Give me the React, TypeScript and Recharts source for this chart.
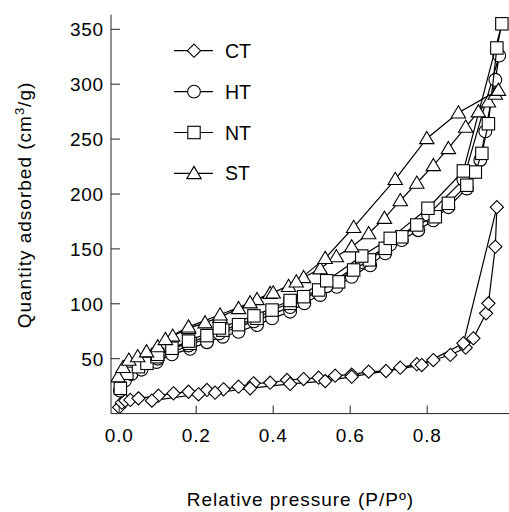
import { ScatterChart, Scatter, XAxis, YAxis, Legend, Label } from 'recharts';

// isotherm points [P/P0, quantity], adsorption branch then desorption branch
const CT_ADS: [number, number][] = [
  [0.0, 5.7], [0.007, 9.9], [0.016, 11.8], [0.029, 12.4], [0.05, 13.9], [0.102, 16.3], [0.141, 18.5],
  [0.18, 19.9], [0.228, 21.5], [0.271, 22.1], [0.31, 24.5], [0.349, 27.6], [0.392, 28.1], [0.436, 30.6],
  [0.479, 31.5], [0.518, 32.7], [0.561, 34.5], [0.604, 35.5], [0.648, 38.2], [0.693, 38.8], [0.73, 41.8],
  [0.773, 45], [0.816, 48.8], [0.86, 53.4], [0.9, 60], [0.92, 68.6], [0.953, 91.3], [0.959, 100.4],
  [0.977, 152], [0.981, 188],
];
const CT_DES: [number, number][] = [
  [0.894, 64], [0.786, 44.2], [0.604, 33.6], [0.535, 29.6], [0.444, 27], [0.34, 23], [0.249, 19],
  [0.206, 17.6], [0.085, 11.8],
];

const HT_ADS: [number, number][] = [
  [0.002, 21], [0.015, 30], [0.032, 36], [0.058, 40], [0.097, 47], [0.137, 54], [0.184, 59], [0.228, 65],
  [0.269, 70], [0.31, 74.5], [0.358, 80.6], [0.397, 86.7], [0.444, 92.8], [0.481, 100.5], [0.522, 108],
  [0.565, 115.5], [0.604, 124.6], [0.652, 135], [0.691, 146], [0.734, 158], [0.777, 167], [0.816, 176],
  [0.855, 188], [0.903, 205], [0.938, 231], [0.951, 257], [0.977, 304], [0.987, 326],
];
const HT_DES: [number, number][] = [
  [0.894, 213], [0.802, 181], [0.704, 154], [0.63, 138], [0.539, 116], [0.444, 97], [0.35, 84],
  [0.26, 73], [0.18, 62], [0.1, 50],
];

const NT_ADS: [number, number][] = [
  [0.003, 23], [0.02, 36.7], [0.05, 42.7], [0.072, 45.8], [0.098, 51.8], [0.137, 59.5], [0.184, 64],
  [0.228, 71], [0.269, 76], [0.31, 81], [0.358, 86.8], [0.397, 94.3], [0.444, 100.4], [0.479, 106.5],
  [0.518, 112.6], [0.57, 120], [0.609, 130.8], [0.65, 140], [0.691, 150.5], [0.734, 161], [0.773, 171.8],
  [0.821, 179.3], [0.855, 191.5], [0.903, 208], [0.925, 220], [0.942, 237], [0.959, 264], [0.981, 333],
  [0.994, 355],
];
const NT_DES: [number, number][] = [
  [0.894, 221], [0.802, 187], [0.704, 159.6], [0.63, 143.5], [0.539, 121], [0.444, 103], [0.35, 89],
  [0.26, 78], [0.18, 66], [0.1, 54],
];

const ST_ADS: [number, number][] = [
  [-0.003, 33.6], [0.01, 42.2], [0.025, 48.8], [0.048, 52], [0.071, 56.4], [0.1, 61], [0.139, 70.7],
  [0.18, 77.6], [0.223, 82.8], [0.262, 87.7], [0.31, 95.8], [0.358, 104], [0.392, 109.5], [0.44, 116],
  [0.479, 124], [0.522, 132], [0.564, 143], [0.604, 152], [0.648, 164], [0.689, 178], [0.73, 194],
  [0.773, 210], [0.816, 226], [0.855, 241.5], [0.9, 261], [0.933, 275], [0.959, 284], [0.977, 291],
  [0.985, 294.6],
];
const ST_DES: [number, number][] = [
  [0.881, 274], [0.799, 250.6], [0.717, 213.4], [0.609, 169.7], [0.535, 141.4], [0.46, 120], [0.4, 110],
  [0.34, 101], [0.262, 90], [0.18, 79], [0.12, 67.6],
];

const X_TICKS = [0, 0.2, 0.4, 0.6, 0.8];
const Y_TICKS = [50, 100, 150, 200, 250, 300, 350];
const X_DOMAIN = [-0.0213, 1.0125];
const Y_DOMAIN = [0, 363.3];

const FONT = '"Liberation Sans", Arial, sans-serif';
const INK = '#000';
const AXIS = '#222';

const toPoints = (ads: [number, number][], des: [number, number][]) =>
  [...ads, ...des].map(([x, y]) => ({ x, y }));

const mk = { fill: '#fff', stroke: INK, strokeWidth: 1.1 };

function Diamond({ cx, cy }: any) {
  const r = 6.6;
  return <path d={`M${cx},${cy - r}L${cx + r},${cy}L${cx},${cy + r}L${cx - r},${cy}Z`} {...mk} />;
}
function Ring({ cx, cy }: any) {
  return <circle cx={cx} cy={cy} r={6.4} {...mk} />;
}
function Box({ cx, cy }: any) {
  return <rect x={cx - 6.2} y={cy - 6.2} width={12.4} height={12.4} {...mk} />;
}
function Tri({ cx, cy }: any) {
  return <path d={`M${cx},${cy - 7}L${cx + 7.2},${cy + 5.2}L${cx - 7.2},${cy + 5.2}Z`} {...mk} />;
}

const SERIES = [
  { name: 'CT', data: toPoints(CT_ADS, CT_DES), Shape: Diamond },
  { name: 'HT', data: toPoints(HT_ADS, HT_DES), Shape: Ring },
  { name: 'NT', data: toPoints(NT_ADS, NT_DES), Shape: Box },
  { name: 'ST', data: toPoints(ST_ADS, ST_DES), Shape: Tri },
];

function XTick({ x, y, payload }: any) {
  return (
    <g>
      <line x1={x} x2={x} y1={y} y2={y - 8} stroke={AXIS} />
      <text x={x} y={y + 28.4} textAnchor="middle" fontSize={19} letterSpacing={0.8} fill={INK}>
        {Number(payload.value).toFixed(1)}
      </text>
    </g>
  );
}

function YTick({ x, y, payload }: any) {
  return (
    <g>
      <line x1={x} x2={x + 9} y1={y} y2={y} stroke={AXIS} />
      <text x={x - 7} y={y} dy="0.36em" textAnchor="end" fontSize={19} letterSpacing={0.8} fill={INK}>
        {payload.value}
      </text>
    </g>
  );
}

function YTitle({ viewBox }: any) {
  const cx = viewBox.x + 20;
  const cy = 205;
  return (
    <text x={cx} y={cy} transform={`rotate(-90 ${cx} ${cy})`} textAnchor="middle" fontSize={19} letterSpacing={1} fill={INK}>
      Quantity adsorbed (cm<tspan dy={-7} fontSize={13}>3</tspan><tspan dy={7}>/g)</tspan>
    </text>
  );
}

function XTitle({ viewBox }: any) {
  return (
    <text x={300.5} y={viewBox.y + 92} textAnchor="middle" fontSize={19} letterSpacing={1} fill={INK}>
      Relative pressure (P/Pº)
    </text>
  );
}

function LegendBox() {
  return (
    <svg width={110} height={170} style={{ fontFamily: FONT }}>
      {SERIES.map((s, i) => {
        const cy = 20.7 + i * 40.9;
        return (
          <g key={s.name}>
            <line x1={14} x2={53} y1={cy} y2={cy} stroke={INK} strokeWidth={1.2} />
            <s.Shape cx={34} cy={cy} />
            <text x={65} y={cy} dy="0.36em" fontSize={19.5} fill={INK}>{s.name}</text>
          </g>
        );
      })}
    </svg>
  );
}

export default function App() {
  return (
    <div style={{ position: 'absolute', left: 0, top: 0, fontFamily: FONT }}>
      <ScatterChart width={509} height={512} margin={{ top: 14.7, right: 0, bottom: 38.4, left: 11 }} style={{ fontFamily: FONT }}>
        <XAxis
          type="number" dataKey="x" domain={X_DOMAIN} ticks={X_TICKS} allowDataOverflow
          height={60} tickSize={0} tickMargin={0} tickLine={false} interval={0}
          axisLine={{ stroke: AXIS, strokeWidth: 1 }} tick={<XTick />}
          label={<Label content={<XTitle />} />}
        />
        <XAxis
          xAxisId="top" orientation="top" type="number" domain={X_DOMAIN} allowDataOverflow
          height={0} tick={false} tickLine={false} axisLine={{ stroke: AXIS, strokeWidth: 1 }}
        />
        <YAxis
          type="number" dataKey="y" domain={Y_DOMAIN} ticks={Y_TICKS} allowDataOverflow
          width={100} tickSize={0} tickMargin={0} tickLine={false} interval={0}
          axisLine={{ stroke: AXIS, strokeWidth: 1 }} tick={<YTick />}
          label={<Label content={<YTitle />} />}
        />
        <Legend
          layout="vertical" align="center" verticalAlign="middle"
          wrapperStyle={{ left: 160, top: 30, width: 110, height: 170 }}
          content={() => <LegendBox />}
        />
        {SERIES.map(s => (
          <Scatter
            key={s.name} name={s.name} data={s.data} shape={s.Shape}
            line={{ stroke: INK, strokeWidth: 1.2 }} lineType="joint"
            isAnimationActive={false}
          />
        ))}
      </ScatterChart>
    </div>
  );
}
